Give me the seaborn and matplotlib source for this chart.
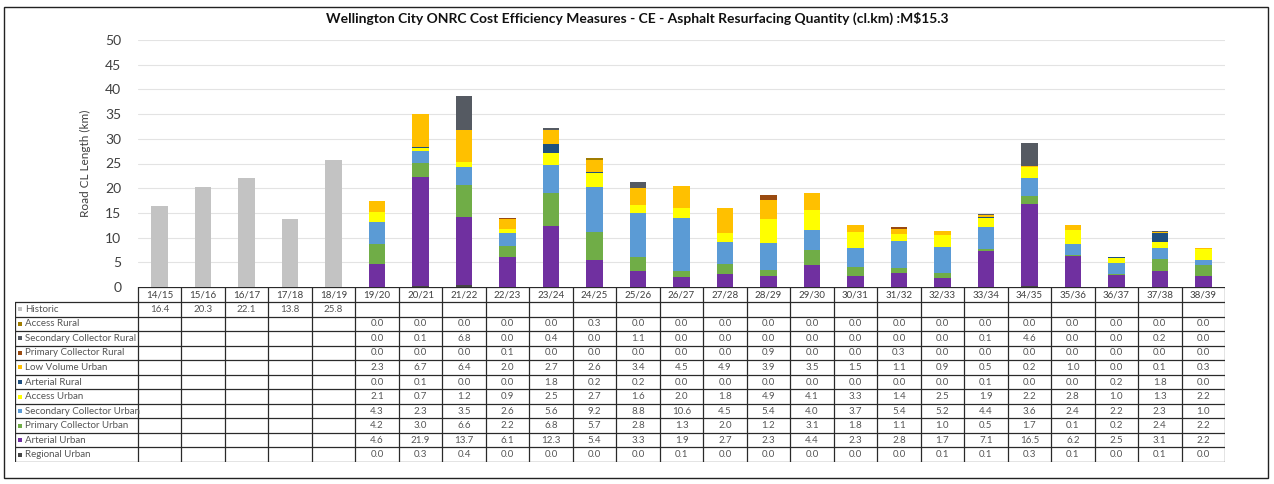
import matplotlib
matplotlib.use("Agg")
import matplotlib.pyplot as plt
import numpy as np
import pandas as pd
import seaborn as sns

years = ["14/15", "15/16", "16/17", "17/18", "18/19", "19/20", "20/21", "21/22", "22/23",
         "23/24", "24/25", "25/26", "26/27", "27/28", "28/29", "29/30", "30/31", "31/32",
         "32/33", "33/34", "34/35", "35/36", "36/37", "37/38", "38/39"]

N = None
historic = [16.4, 20.3, 22.1, 13.8, 25.8] + [N] * 20
access_rural = [N] * 5 + [0.0, 0.0, 0.0, 0.0, 0.0, 0.3, 0.0, 0.0, 0.0, 0.0, 0.0, 0.0, 0.0, 0.0, 0.0, 0.0, 0.0, 0.0, 0.0, 0.0]
secondary_collector_rural = [N] * 5 + [0.0, 0.1, 6.8, 0.0, 0.4, 0.0, 1.1, 0.0, 0.0, 0.0, 0.0, 0.0, 0.0, 0.0, 0.1, 4.6, 0.0, 0.0, 0.2, 0.0]
primary_collector_rural = [N] * 5 + [0.0, 0.0, 0.0, 0.1, 0.0, 0.0, 0.0, 0.0, 0.0, 0.9, 0.0, 0.0, 0.3, 0.0, 0.0, 0.0, 0.0, 0.0, 0.0, 0.0]
low_volume_urban = [N] * 5 + [2.3, 6.7, 6.4, 2.0, 2.7, 2.6, 3.4, 4.5, 4.9, 3.9, 3.5, 1.5, 1.1, 0.9, 0.5, 0.2, 1.0, 0.0, 0.1, 0.3]
arterial_rural = [N] * 5 + [0.0, 0.1, 0.0, 0.0, 1.8, 0.2, 0.2, 0.0, 0.0, 0.0, 0.0, 0.0, 0.0, 0.0, 0.1, 0.0, 0.0, 0.2, 1.8, 0.0]
access_urban = [N] * 5 + [2.1, 0.7, 1.2, 0.9, 2.5, 2.7, 1.6, 2.0, 1.8, 4.9, 4.1, 3.3, 1.4, 2.5, 1.9, 2.2, 2.8, 1.0, 1.3, 2.2]
secondary_collector_urban = [N] * 5 + [4.3, 2.3, 3.5, 2.6, 5.6, 9.2, 8.8, 10.6, 4.5, 5.4, 4.0, 3.7, 5.4, 5.2, 4.4, 3.6, 2.4, 2.2, 2.3, 1.0]
primary_collector_urban = [N] * 5 + [4.2, 3.0, 6.6, 2.2, 6.8, 5.7, 2.8, 1.3, 2.0, 1.2, 3.1, 1.8, 1.1, 1.0, 0.5, 1.7, 0.1, 0.2, 2.4, 2.2]
arterial_urban = [N] * 5 + [4.6, 21.9, 13.7, 6.1, 12.3, 5.4, 3.3, 1.9, 2.7, 2.3, 4.4, 2.3, 2.8, 1.7, 7.1, 16.5, 6.2, 2.5, 3.1, 2.2]
regional_urban = [N] * 5 + [0.0, 0.3, 0.4, 0.0, 0.0, 0.0, 0.0, 0.1, 0.0, 0.0, 0.0, 0.0, 0.0, 0.1, 0.1, 0.3, 0.1, 0.0, 0.1, 0.0]

# table order (top to bottom); stacking is the reverse (bottom to top)
series_names = ["Historic", "Access Rural", "Secondary Collector Rural", "Primary Collector Rural",
                "Low Volume Urban", "Arterial Rural", "Access Urban", "Secondary Collector Urban",
                "Primary Collector Urban", "Arterial Urban", "Regional Urban"]
series_values = [historic, access_rural, secondary_collector_rural, primary_collector_rural,
                 low_volume_urban, arterial_rural, access_urban, secondary_collector_urban,
                 primary_collector_urban, arterial_urban, regional_urban]
series_colors = ["#C3C3C3", "#A07C00", "#555A62", "#9A4A10", "#FFC000", "#1F5080",
                 "#FFFF00", "#5B9BD5", "#70AD47", "#7030A0", "#454545"]

title = "Wellington City ONRC Cost Efficiency Measures - CE - Asphalt Resurfacing Quantity (cl.km) :M$15.3"
y_label = "Road CL Length (km)"

sns.set_theme(style="white")
plt.rcParams["font.family"] = ["Lato", "DejaVu Sans"]

W, H = 1274, 484
fig = plt.figure(figsize=(W / 100, H / 100), dpi=100)
fig.patch.set_facecolor("white")

# outer border
fig.add_artist(plt.Rectangle((4 / W, 1 - 478 / H), (1268 - 4) / W, (478 - 7) / H,
                             transform=fig.transFigure, fill=False, edgecolor="#222222", lw=1.0))

x_left, x_right = 138, 1225
ax = fig.add_axes([x_left / W, 1 - 287 / H, (x_right - x_left) / W, (287 - 40) / H])

stack_order = list(range(len(series_names)))[::-1]  # bottom to top
cum = np.zeros(len(years))
cums = []
for i in stack_order:
    vals = np.array([0.0 if v is None else v for v in series_values[i]])
    cum = cum + vals
    cums.append((i, cum.copy()))

# draw from tallest cumulative (top series) down
for i, c in reversed(cums):
    d = pd.DataFrame({"year": years, "val": c})
    sns.barplot(data=d, x="year", y="val", order=years, color=series_colors[i],
                saturation=1, width=0.38, linewidth=0, errorbar=None, ax=ax)

ax.set_xlim(-0.5, len(years) - 0.5)
ax.set_ylim(0, 50)
ax.set_yticks(np.arange(0, 51, 5))
ax.yaxis.grid(True, color="#E3E3E3", lw=0.8)
ax.set_axisbelow(True)
ax.set_xticks([])
ax.set_xlabel("")
ax.set_ylabel(y_label, fontsize=8.5, color="#404040", labelpad=10)
ax.tick_params(axis="y", labelsize=10, labelcolor="#404040", length=0, pad=12)
for s in ["top", "right", "left", "bottom"]:
    ax.spines[s].set_visible(False)

fig.text(0.5, 1 - 18 / H, title, ha="center", va="center", fontsize=10, fontweight="bold", color="#111111")

# data table
col_w = (x_right - x_left) / len(years)
label_cols = (x_left - 15) / col_w
tax = fig.add_axes([15 / W, 1 - 462 / H, (x_right - 15) / W, (462 - 287) / H])
n_rows = len(series_names)
header_h = 15 / 14.5
tax.set_xlim(-0.5 - label_cols, len(years) - 0.5)
tax.set_ylim(header_h + n_rows, 0)
tax.axis("off")
lc = "#2a2a2a"
lw = 0.9
tax.plot([-0.5, len(years) - 0.5], [0, 0], color=lc, lw=lw)
for r in range(n_rows + 1):
    y = header_h + r
    tax.plot([-0.5 - label_cols, len(years) - 0.5], [y, y], color=lc, lw=lw)
tax.plot([-0.5 - label_cols] * 2, [header_h, header_h + n_rows], color=lc, lw=lw)
for k in range(len(years) + 1):
    x = k - 0.5
    tax.plot([x, x], [0, header_h + n_rows], color=lc, lw=lw)

fs = 7
for k, yr in enumerate(years):
    tax.text(k, header_h / 2, yr, ha="center", va="center", fontsize=fs, color="#404040")
for r, (name, vals, col) in enumerate(zip(series_names, series_values, series_colors)):
    yc = header_h + r + 0.5
    tax.scatter([-0.5 - label_cols + 0.12], [yc], marker="s", s=9, color=col, linewidths=0)
    tax.text(-0.5 - label_cols + 0.23, yc, name, ha="left", va="center", fontsize=fs, color="#555555")
    for k, v in enumerate(vals):
        if v is not None:
            tax.text(k, yc, f"{v:.1f}", ha="center", va="center", fontsize=fs, color="#555555")

fig.savefig("out.png", dpi=100, facecolor="white")
